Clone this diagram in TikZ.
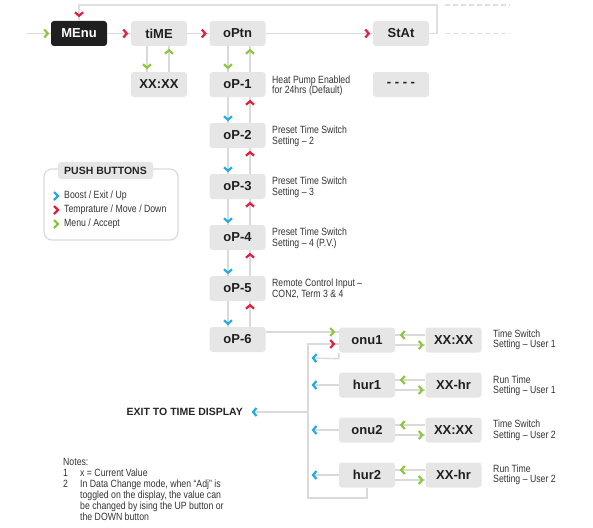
\documentclass[tikz,border=0pt]{standalone}
\usepackage{fontspec}
\setmainfont{Liberation Sans}
\newfontfamily\cond{Liberation Sans}[FakeStretch=0.83]
\usetikzlibrary{decorations.markings}
\definecolor{cgreen}{HTML}{8DC63F}
\definecolor{cred}{HTML}{E0203F}
\definecolor{cblue}{HTML}{27AAE1}
\definecolor{boxgray}{HTML}{E6E6E7}
\definecolor{lngray}{HTML}{DADADA}
\definecolor{txtgray}{HTML}{333333}
\begin{document}
\begin{tikzpicture}[x=1pt,y=-1pt,
  box/.style={fill=boxgray, rounded corners=3pt, minimum width=56pt, minimum height=25pt, inner sep=0pt, font=\fontsize{13}{13}\selectfont\bfseries, text=black!88},
  dbox/.style={box, fill=black!88, text=white},
  ln/.style={draw=lngray, line width=1.4pt},
  chv/.style 2 args={postaction={decorate, decoration={markings, mark=at position #2 with {\draw[#1, line width=2.2pt, miter limit=10] (-3.5pt,4pt) -- (0pt,0pt) -- (-3.5pt,-4pt);}}}},
  chevshape/.style={line width=2.2pt, miter limit=10},
  desc/.style={font=\cond\fontsize{10.5}{10.5}\selectfont, align=left, anchor=west, inner sep=0pt, text=txtgray},
  btxt/.style={font=\fontsize{10.5}{10.5}\selectfont\bfseries, inner sep=0pt, text=black!85}
]
\useasboundingbox (0,0) rectangle (593,527);

% top row
\node[dbox] (menu) at (79,33.5) {MEnu};
\node[box] (time) at (159,33.5) {tiME};
\node[box] (optn) at (237.5,33.5) {oPtn};
\node[box] (stat) at (401,33.5) {StAt};
\node[box] (clk) at (159,84.5) {XX:XX};
\node[box] (dsh) at (401,84.5) {- - - -};

% option column
\node[box] (op1) at (237.5,84.5) {oP-1};
\node[box] (op2) at (237.5,135.5) {oP-2};
\node[box] (op3) at (237.5,186.5) {oP-3};
\node[box] (op4) at (237.5,237.5) {oP-4};
\node[box] (op5) at (237.5,288.5) {oP-5};
\node[box] (op6) at (237.5,339.5) {oP-6};

\node[desc] (d1) at (272,86) {Heat Pump Enabled\\for 24hrs (Default)};
\node[desc] (d2) at (272,136.5) {Preset Time Switch\\Setting – 2};
\node[desc] (d3) at (272,187.5) {Preset Time Switch\\Setting – 3};
\node[desc] (d4) at (272,238.5) {Preset Time Switch\\Setting – 4 (P.V.)};
\node[desc] (d5) at (272,289) {Remote Control Input –\\CON2, Term 3 \& 4};

% user column
\node[box] (onu1) at (367,340) {onu1};
\node[box] (xx1) at (453.5,340) {XX:XX};
\node[box] (hur1) at (367,385) {hur1};
\node[box] (xh1) at (453.5,385) {XX-hr};
\node[box] (onu2) at (367,430) {onu2};
\node[box] (xx2) at (453.5,430) {XX:XX};
\node[box] (hur2) at (367,475) {hur2};
\node[box] (xh2) at (453.5,475) {XX-hr};

\node[desc] (u1) at (493,340) {Time Switch\\Setting – User 1};
\node[desc] (u2) at (493,386) {Run Time\\Setting – User 1};
\node[desc] (u3) at (493,430.5) {Time Switch\\Setting – User 2};
\node[desc] (u4) at (493,475) {Run Time\\Setting – User 2};

% top connectors
\coordinate (inL) at (27,33.5);
\draw[ln, chv={cgreen}{-3pt}] (inL) -- (menu.west);
\draw[ln, chv={cred}{-4pt}] (menu) -- (time);
\draw[ln, chv={cred}{-4pt}] (time) -- (optn);
\draw[ln, chv={cred}{-4pt}] (optn) -- (stat);

\coordinate (t1) at (79,5);
\coordinate (t2) at (437,5);
\coordinate (t3) at (437,33.5);
\draw[ln, draw=black!12, chv={cred}{-5pt}] (stat.east) -- (t3) -- (t2) -- (t1) -- (menu.north);
\coordinate (da1) at (445,5);
\coordinate (da2) at (510,5);
\coordinate (db1) at (445,33.5);
\coordinate (db2) at (510,33.5);
\draw[ln, draw=black!12, dash pattern=on 5pt off 3pt] (da1) -- (da2);
\draw[ln, draw=black!12, dash pattern=on 5pt off 3pt] (db1) -- (db2);

\draw[ln, chv={cgreen}{-4pt}] ([xshift=-12pt]time.south) -- ([xshift=-12pt]clk.north);
\draw[ln, chv={cgreen}{-4pt}] ([xshift=10pt]clk.north) -- ([xshift=10pt]time.south);
\draw[ln, chv={cgreen}{-4pt}] ([xshift=-9.5pt]optn.south) -- ([xshift=-9.5pt]op1.north);
\draw[ln, chv={cgreen}{-4pt}] ([xshift=12.5pt]op1.north) -- ([xshift=12.5pt]optn.south);

% option column connectors
\foreach \a/\b in {op1/op2,op2/op3,op3/op4,op4/op5,op5/op6}{
  \draw[ln, chv={cblue}{-3pt}] ([xshift=-9.5pt]\a.south) -- ([xshift=-9.5pt]\b.north);
  \draw[ln, chv={cred}{-4pt}] ([xshift=12.5pt]\b.north) -- ([xshift=12.5pt]\a.south);
}

% into user column
\draw[ln, chv={cgreen}{-5pt}] ([yshift=7.5pt]op6.east) -- ([yshift=8pt]onu1.west);
\coordinate (v1) at (308,344);
\coordinate (v2) at (308,498);
\coordinate (v3) at (367,498);
\draw[ln, chv={cred}{-5pt}] (hur2.south) -- (v3) -- (v2) -- (v1) -- ([yshift=-4pt]onu1.west);

% user value connectors
\foreach \a/\b in {onu1/xx1,hur1/xh1,onu2/xx2,hur2/xh2}{
  \draw[ln, chv={cgreen}{-6pt}] ([yshift=5pt]\b.west) -- ([yshift=5pt]\a.east);
  \draw[ln, chv={cgreen}{-3pt}] ([yshift=-5pt]\a.east) -- ([yshift=-5pt]\b.west);
}

% exits to the left
\coordinate (e1) at (312,358);
\coordinate (e2) at (312,385);
\coordinate (e3) at (312,430);
\coordinate (e4) at (312,475);
\draw[ln, chv={cblue}{-1pt}] (onu1.south west) -- ++(0,6) -- (e1);
\draw[ln, chv={cblue}{-1pt}] (hur1.west) -- (e2);
\draw[ln, chv={cblue}{-1pt}] (onu2.west) -- (e3);
\draw[ln, chv={cblue}{-1pt}] (hur2.west) -- (e4);

\node[btxt, anchor=east] (exit) at (243,412) {EXIT TO TIME DISPLAY};
\coordinate (x1) at (308,412);
\coordinate (x2) at (252,412);
\draw[ln, chv={cblue}{-1pt}] (x1) -- (x2);

% push buttons legend
\node[draw=lngray, line width=1.2pt, rounded corners=8pt, minimum width=134pt, minimum height=71pt, inner sep=0pt] (pb) at (111,204.5) {};
\node[fill=boxgray, rounded corners=3pt, minimum width=95pt, minimum height=17pt, btxt] (pbt) at (105.5,170.5) {PUSH BUTTONS};
\draw[cblue, chevshape] (54,192) -- (58,196) -- (54,200);
\draw[cred, chevshape] (54,206) -- (58,210) -- (54,214);
\draw[cgreen, chevshape] (54,220) -- (58,224) -- (54,228);
\node[desc] (l1) at (64,196) {Boost / Exit / Up};
\node[desc] (l2) at (64,210) {Temprature / Move / Down};
\node[desc] (l3) at (64,224) {Menu / Accept};

% notes
\node[desc] (nt) at (63,462) {Notes:};
\node[desc] (n1) at (63,473) {1};
\node[desc] (n1t) at (80,473) {x = Current Value};
\node[desc] (n2) at (63,484) {2};
\node[desc, font=\cond\fontsize{10.5}{11}\selectfont] (n2t) at (80,500.5) {In Data Change mode, when “Adj” is\\toggled on the display, the value can\\be changed by ising the UP button or\\the DOWN button};
\end{tikzpicture}
\end{document}
